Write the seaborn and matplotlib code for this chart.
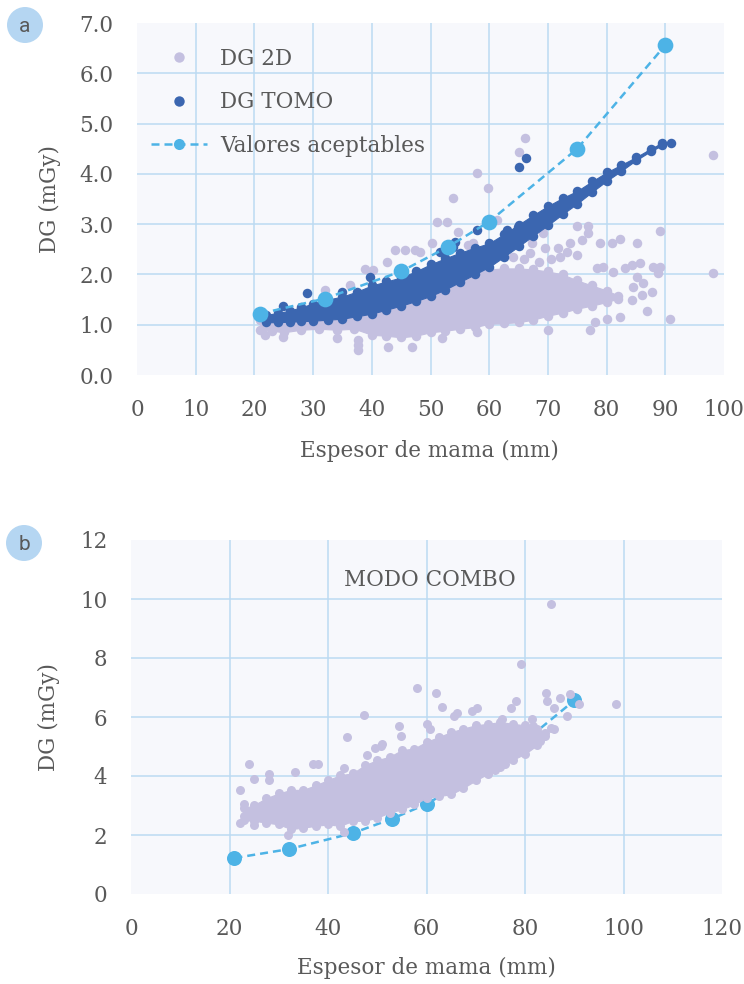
import matplotlib
matplotlib.use("Agg")
import matplotlib.pyplot as plt
import seaborn as sns
from matplotlib.lines import Line2D
from matplotlib.patches import Ellipse

# ---------------- data ----------------
# acceptable dose values (both panels)
acc_x = [21, 32, 45, 53, 60, 75, 90]
acc_y = [1.22, 1.52, 2.06, 2.55, 3.05, 4.50, 6.56]

# panel a - DG 2D : dense core of the cloud (lower / upper edge) + scattered points
d2_band_x = [21, 23, 25, 28, 31, 34, 37, 40, 42.5, 45, 47.5, 50, 52.5, 55, 57.5, 60, 62.5, 65, 67.5, 70, 72.5, 75, 77.5, 80, 82]
d2_band_lo = [0.90, 0.88, 0.85, 0.90, 0.92, 0.90, 0.92, 0.80, 0.78, 0.75, 0.78, 0.85, 0.88, 0.92, 0.95, 1.02, 1.03, 1.05, 1.10, 1.18, 1.24, 1.32, 1.38, 1.45, 1.52]
d2_band_hi = [1.10, 1.12, 1.14, 1.16, 1.18, 1.20, 1.25, 1.32, 1.40, 1.48, 1.58, 1.68, 1.80, 1.95, 2.05, 2.10, 2.12, 2.12, 2.10, 2.06, 2.00, 1.88, 1.78, 1.68, 1.58]
d2_pts_x = [21.8, 24.9, 32.0, 36.3, 38.8, 40.2, 42.6, 44.0, 45.7, 47.4, 48.2, 50.3, 51.1, 52.8, 53.9, 54.7,
            57.3, 58.0, 59.8, 61.3, 65.1, 66.1, 56.4, 34.0, 37.6, 37.6, 37.6, 42.8, 46.9, 52.0, 57.9,
            64.0, 66.0, 67.0, 67.3, 68.5, 69.2, 69.5, 70.5, 71.7, 72.0, 73.2, 73.8, 75.0, 75.0, 75.8,
            76.8, 76.8, 78.4, 78.9, 79.4, 81.0, 81.1, 82.3, 83.1, 84.3, 84.3, 84.5, 85.2, 85.2, 85.7,
            86.0, 86.2, 87.7, 87.9, 88.8, 89.1, 89.1, 86.9, 90.8, 82.3, 80.0, 77.2, 78.0, 98.2, 98.2, 70.0]
d2_pts_y = [0.80, 0.76, 1.69, 1.78, 2.10, 2.09, 2.25, 2.48, 2.48, 2.48, 2.45, 2.62, 3.04, 3.04, 3.52, 2.85,
            2.62, 4.02, 3.72, 3.08, 4.43, 4.71, 2.58, 0.73, 0.70, 0.60, 0.50, 0.56, 0.56, 0.73, 0.86,
            2.35, 2.30, 2.43, 2.62, 2.25, 2.82, 2.52, 2.30, 2.52, 2.35, 2.45, 2.62, 2.96, 2.39, 2.68,
            2.96, 2.82, 2.13, 2.62, 2.15, 2.62, 2.05, 2.70, 2.13, 2.19, 1.49, 1.75, 2.62, 1.95, 2.22,
            1.59, 1.83, 1.65, 2.15, 2.03, 2.15, 2.86, 1.27, 1.11, 1.15, 1.11, 0.89, 1.05, 4.37, 2.03, 0.90]

# panel a - DG TOMO
tomo_band_x = [22, 24, 26, 28, 30, 32.5, 35, 37.5, 40, 42.5, 45, 47.5, 50, 52.5, 55, 57.5, 60, 62.5, 65, 67.5, 70, 72.5, 75, 77.5, 80, 82.5, 85, 87.5, 89.5]
tomo_band_lo = [1.05, 1.05, 1.06, 1.07, 1.08, 1.10, 1.12, 1.17, 1.22, 1.30, 1.38, 1.47, 1.57, 1.70, 1.85, 2.00, 2.15, 2.35, 2.56, 2.77, 2.98, 3.20, 3.41, 3.64, 3.86, 4.06, 4.27, 4.45, 4.57]
tomo_band_hi = [1.20, 1.23, 1.28, 1.35, 1.42, 1.50, 1.56, 1.66, 1.78, 1.86, 1.94, 2.06, 2.20, 2.32, 2.43, 2.53, 2.62, 2.80, 2.99, 3.18, 3.36, 3.52, 3.66, 3.85, 4.03, 4.18, 4.33, 4.50, 4.62]
tomo_pts_x = [24.9, 29.0, 35.0, 39.7, 51.6, 53.9, 54.2, 57.9, 63.0, 64.9, 65.1, 66.3, 91.0]
tomo_pts_y = [1.37, 1.63, 1.66, 1.95, 2.45, 2.55, 2.64, 2.88, 2.88, 2.94, 4.14, 4.31, 4.61]

# panel b - DG modo combo
combo_band_x = [23, 25, 27.5, 30, 32.5, 35, 37.5, 40, 42.5, 45, 47.5, 50, 52.5, 55, 57.5, 60, 62.5, 65, 67.5, 70, 72.5, 75, 77.5, 80, 82.5, 84]
combo_band_lo = [2.50, 2.48, 2.42, 2.36, 2.20, 2.25, 2.31, 2.36, 2.31, 2.48, 2.48, 2.59, 2.76, 2.87, 3.04, 3.26, 3.32, 3.38, 3.60, 3.85, 4.08, 4.32, 4.55, 4.75, 5.05, 5.35]
combo_band_hi = [2.90, 3.02, 3.25, 3.41, 3.53, 3.53, 3.69, 3.86, 4.03, 4.09, 4.37, 4.54, 4.65, 4.88, 4.93, 5.16, 5.32, 5.49, 5.61, 5.72, 5.77, 5.83, 5.77, 5.72, 5.61, 5.45]
combo_pts_x = [22.1, 22.1, 23.0, 23.0, 23.9, 24.9, 24.9, 28.0, 28.0, 33.3, 37.0, 38.0, 31.8, 43.2, 43.2, 43.9,
               47.3, 47.9, 49.6, 50.7, 50.9, 54.4, 54.9, 58.0, 60.1, 60.8, 62.0, 63.2, 65.5, 66.2, 69.3,
               70.3, 75.4, 77.1, 78.1, 79.2, 81.5, 81.7, 83.1, 84.2, 84.5, 85.2, 85.2, 85.8, 85.8, 87.2,
               88.6, 89.2, 90.9, 98.4, 74.0, 76.0]
combo_pts_y = [3.51, 2.41, 2.63, 3.05, 4.41, 3.90, 2.33, 4.07, 3.85, 4.15, 4.41, 4.41, 1.99, 2.09, 4.28, 5.33,
               6.07, 4.70, 4.96, 5.03, 5.10, 5.70, 5.36, 6.99, 5.76, 5.60, 6.82, 6.34, 6.04, 6.12, 6.21,
               6.32, 5.93, 6.32, 6.54, 7.78, 5.93, 5.70, 5.19, 6.82, 6.54, 5.64, 9.82, 6.32, 5.60, 6.63,
               6.04, 6.77, 6.43, 6.45, 4.22, 4.40]

a_xticks = [0, 10, 20, 30, 40, 50, 60, 70, 80, 90, 100]
a_yticks = [0, 1, 2, 3, 4, 5, 6, 7]
a_yticklabels = ["0.0", "1.0", "2.0", "3.0", "4.0", "5.0", "6.0", "7.0"]
b_xticks = [0, 20, 40, 60, 80, 100, 120]
b_yticks = [0, 2, 4, 6, 8, 10, 12]

# ---------------- style ----------------
LAV = "#c4c0e0"
DARK = "#3b66b0"
ACC = "#4db3e6"
GRID = "#bcdaf2"
BG = "#f7f8fc"
TXT = "#595959"
BADGE = "#b5d6f2"
FS = 15.5

sns.set_theme(style="white")
plt.rcParams["font.family"] = ["DejaVu Serif"]
plt.rcParams["text.color"] = TXT

fig = plt.figure(figsize=(7.44, 9.84), dpi=100)
axa = fig.add_axes([137 / 744, 1 - 375 / 984, 587 / 744, 352 / 984])
axb = fig.add_axes([131 / 744, 1 - 894 / 984, 591 / 744, 354 / 984])


def style_axes(ax, xticks, yticks, yticklabels=None):
    ax.set_facecolor(BG)
    for s in ax.spines.values():
        s.set_visible(False)
    ax.set_xlim(xticks[0], xticks[-1])
    ax.set_ylim(yticks[0], yticks[-1])
    ax.set_xticks(xticks)
    ax.set_yticks(yticks)
    if yticklabels is not None:
        ax.set_yticklabels(yticklabels)
    ax.tick_params(length=0, labelsize=FS, labelcolor=TXT, pad=17)
    for v in xticks[1:-1]:
        ax.axvline(v, color=GRID, lw=1.1, zorder=0.5)
    for v in yticks[1:-1]:
        ax.axhline(v, color=GRID, lw=1.1, zorder=0.5)


def cloud(ax, bx, lo, hi, px, py, color, s, z):
    ax.fill_between(bx, lo, hi, facecolor=color, edgecolor=color, lw=0.8, alpha=1, zorder=z)
    sns.scatterplot(x=bx + bx, y=lo + hi, ax=ax, color=color, s=s, linewidth=0, zorder=z, legend=False)
    sns.scatterplot(x=px, y=py, ax=ax, color=color, s=s, linewidth=0, zorder=z, legend=False)


def acceptable(ax, s, z):
    sns.lineplot(x=acc_x, y=acc_y, ax=ax, color=ACC, lw=1.8, zorder=z, legend=False)
    ax.lines[-1].set_dashes([3.2, 2.0])
    sns.scatterplot(x=acc_x, y=acc_y, ax=ax, color=ACC, s=s, linewidth=0, zorder=z + 0.1, legend=False)


# ---------------- panel a ----------------
style_axes(axa, a_xticks, a_yticks, a_yticklabels)
cloud(axa, d2_band_x, d2_band_lo, d2_band_hi, d2_pts_x, d2_pts_y, LAV, 47, 2)
cloud(axa, tomo_band_x, tomo_band_lo, tomo_band_hi, tomo_pts_x, tomo_pts_y, DARK, 47, 3)
acceptable(axa, 128, 4)
axa.set_xlabel("Espesor de mama (mm)", fontsize=FS, color=TXT)
axa.set_ylabel("DG (mGy)", fontsize=FS, color=TXT)
axa.xaxis.set_label_coords(0.499, -0.185)
axa.yaxis.set_label_coords(-0.13, 0.5)

handles = [
    Line2D([], [], marker="o", ls="", color=LAV, markersize=7.5, markeredgewidth=0),
    Line2D([], [], marker="o", ls="", color=DARK, markersize=7.5, markeredgewidth=0),
    Line2D([], [], marker="o", color=ACC, lw=1.8, ls=(0, (3.2, 2.0)), markersize=8, markeredgewidth=0),
]
labels = ["DG 2D", "DG TOMO", "Valores aceptables"]
axa.legend(handles, labels, loc="upper left", bbox_to_anchor=(0.024, 0.929), frameon=False,
           fontsize=FS, handlelength=2.6, handletextpad=0.6, labelspacing=0.99,
           borderaxespad=0, borderpad=0, labelcolor=TXT)

# ---------------- panel b ----------------
style_axes(axb, b_xticks, b_yticks)
acceptable(axb, 117, 2)
cloud(axb, combo_band_x, combo_band_lo, combo_band_hi, combo_pts_x, combo_pts_y, LAV, 42, 3)
axb.text(0.506, 0.887, "MODO COMBO", transform=axb.transAxes, ha="center", va="center",
         fontsize=FS, color=TXT)
axb.set_xlabel("Espesor de mama (mm)", fontsize=FS, color=TXT)
axb.set_ylabel("DG (mGy)", fontsize=FS, color=TXT)
axb.xaxis.set_label_coords(0.5, -0.178)
axb.yaxis.set_label_coords(-0.12, 0.5)

# ---------------- badges ----------------
for (cx, cy, letter) in [(25, 25, "a"), (24, 543, "b")]:
    fig.add_artist(Ellipse((cx / 744, 1 - cy / 984), 36 / 744, 36 / 984,
                           transform=fig.transFigure, color=BADGE, lw=0))
    fig.text(cx / 744, 1 - (cy + 1) / 984, letter, ha="center", va="center",
             fontsize=15, family=["Roboto", "DejaVu Sans"], color=TXT)

fig.savefig("out.png", dpi=100)
